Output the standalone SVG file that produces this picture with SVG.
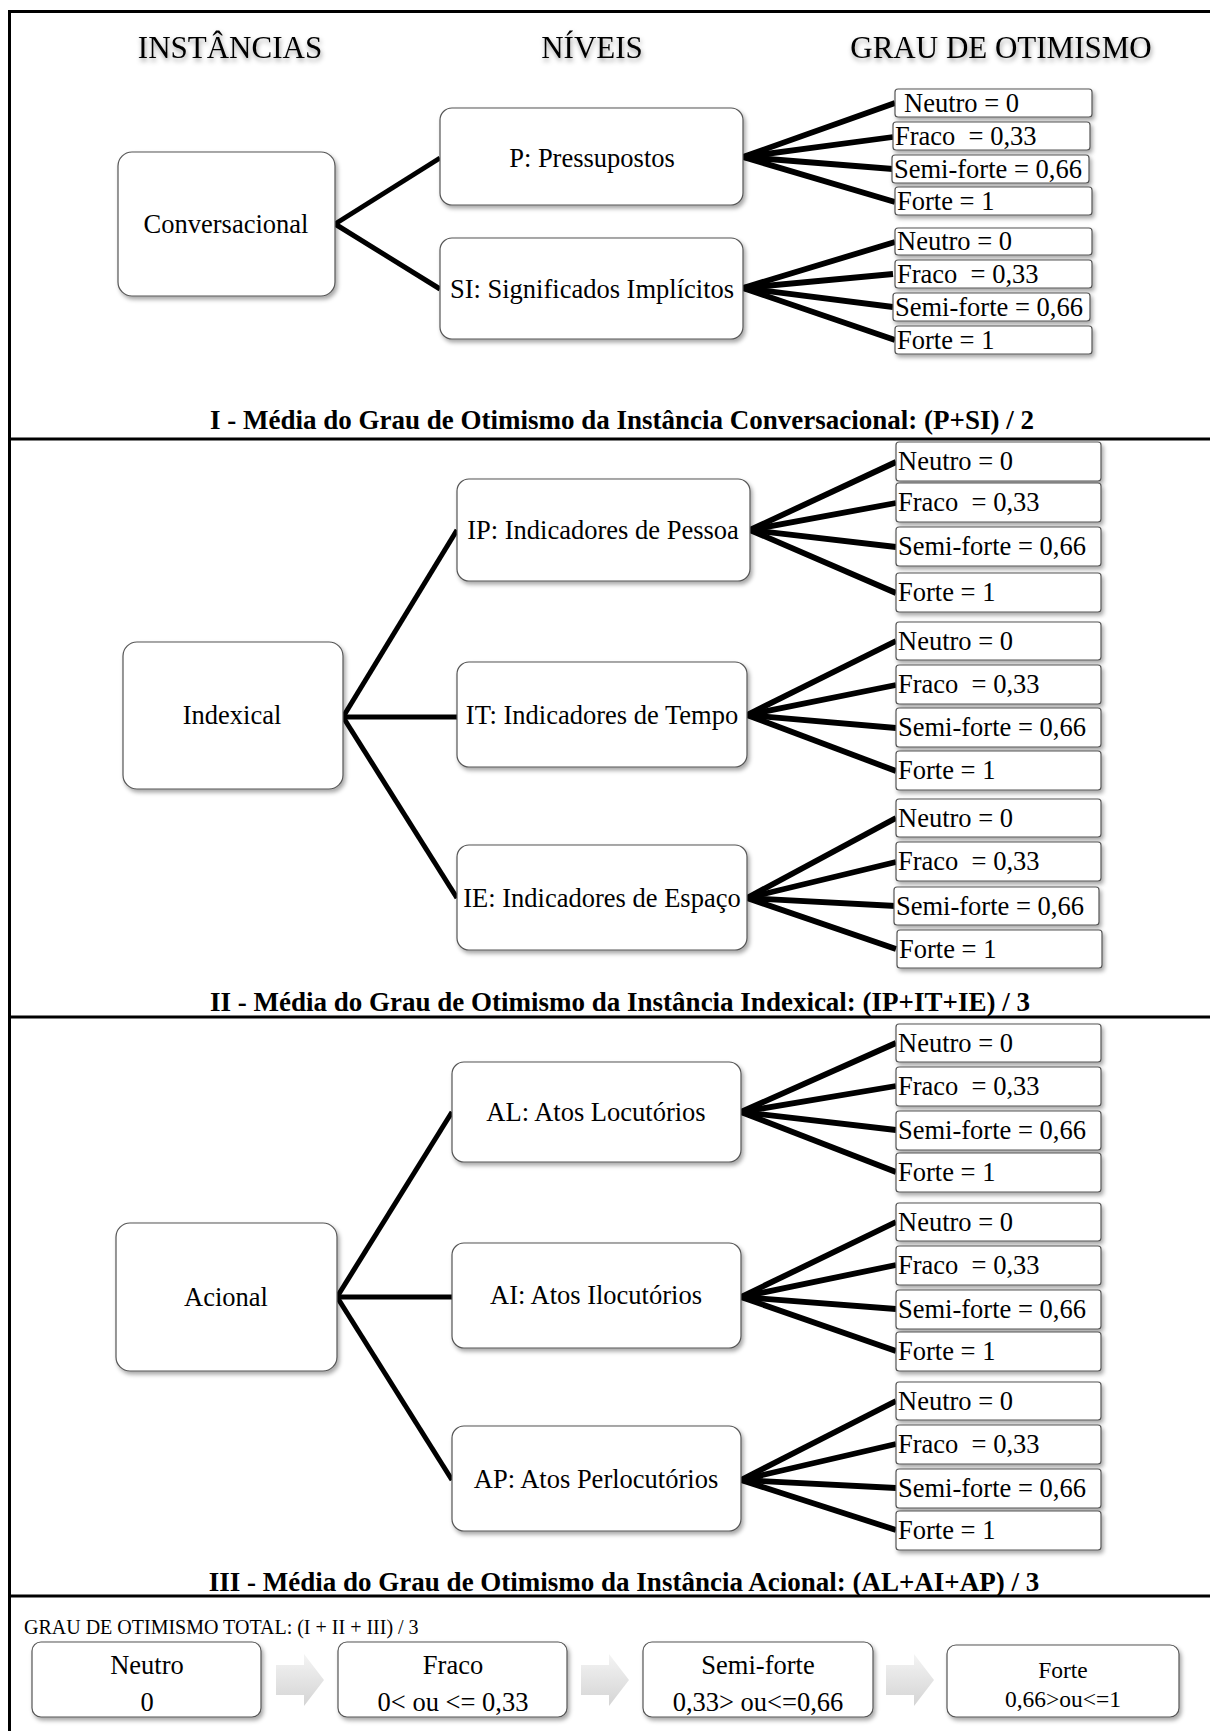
<svg xmlns="http://www.w3.org/2000/svg" width="1210" height="1731" viewBox="0 0 1210 1731">
<style>
.t{font-family:"Liberation Serif","Times New Roman",serif;font-size:26.5px;fill:#000;white-space:pre}
.c{text-anchor:middle}
.hdr{font-size:31px}
.cap{font-weight:bold;font-size:27px}
.bs{font-size:26.5px}
.fs{font-size:23.5px}
.bx{fill:#fff;stroke:#555;stroke-width:1.2}
.gb{fill:#fff;stroke:#555;stroke-width:1.2}
.sep{stroke:#000;stroke-width:3;fill:none}
.conn line{stroke:#000;stroke-width:5;stroke-linecap:butt}
.conn line.f{stroke-width:5.8}
</style>
<defs>
<filter id="sh" x="-10%" y="-10%" width="130%" height="140%">
<feDropShadow dx="2" dy="3" stdDeviation="2" flood-color="#000" flood-opacity="0.35"/>
</filter>
<filter id="tsh" x="-10%" y="-30%" width="120%" height="180%">
<feDropShadow dx="1" dy="3" stdDeviation="2.5" flood-color="#000" flood-opacity="0.4"/>
</filter>
<linearGradient id="ag" x1="0" y1="0" x2="0" y2="1">
<stop offset="0" stop-color="#f4f4f4"/>
<stop offset="1" stop-color="#d4d4d4"/>
</linearGradient>
<path id="arw" d="M0,-15 L28,-15 L28,-26 L48,0 L28,26 L28,15 L0,15 Z" fill="url(#ag)"/>
</defs>
<rect width="1210" height="1731" fill="#fff"/>
<!-- frame and separators -->
<path class="sep" d="M9.5,1731 L9.5,11.5 L1210,11.5"/>
<line class="sep" x1="8" y1="439" x2="1210" y2="439"/>
<line class="sep" x1="8" y1="1017" x2="1210" y2="1017"/>
<line class="sep" x1="8" y1="1596" x2="1210" y2="1596"/>

<!-- headers -->
<g id="headers" filter="url(#tsh)">
<text class="t c hdr" x="230" y="58">INSTÂNCIAS</text>
<text class="t c hdr" x="592" y="58">NÍVEIS</text>
<text class="t c hdr" x="1001" y="58">GRAU DE OTIMISMO</text>
</g>

<!-- connectors -->
<g class="conn" id="connectors">
<line x1="335" y1="224" x2="440" y2="158"/>
<line x1="335" y1="224" x2="440" y2="289"/>
<line class="f" x1="743" y1="157" x2="895" y2="103"/>
<line class="f" x1="743" y1="157" x2="893" y2="137"/>
<line class="f" x1="743" y1="157" x2="893" y2="169"/>
<line class="f" x1="743" y1="157" x2="895" y2="202"/>
<line class="f" x1="743" y1="288" x2="895" y2="242"/>
<line class="f" x1="743" y1="288" x2="893" y2="274"/>
<line class="f" x1="743" y1="288" x2="893" y2="307"/>
<line class="f" x1="743" y1="288" x2="895" y2="340"/>

<line x1="343" y1="717" x2="457" y2="530"/>
<line x1="343" y1="717" x2="457" y2="717"/>
<line x1="343" y1="717" x2="457" y2="898"/>
<line class="f" x1="750" y1="530" x2="896" y2="462"/>
<line class="f" x1="750" y1="530" x2="896" y2="503"/>
<line class="f" x1="750" y1="530" x2="896" y2="547"/>
<line class="f" x1="750" y1="530" x2="896" y2="593"/>
<line class="f" x1="747" y1="715" x2="896" y2="641"/>
<line class="f" x1="747" y1="715" x2="896" y2="685"/>
<line class="f" x1="747" y1="715" x2="896" y2="728"/>
<line class="f" x1="747" y1="715" x2="896" y2="771"/>
<line class="f" x1="747" y1="898" x2="896" y2="818"/>
<line class="f" x1="747" y1="898" x2="896" y2="862"/>
<line class="f" x1="747" y1="898" x2="896" y2="906"/>
<line class="f" x1="747" y1="898" x2="896" y2="949"/>

<line x1="337" y1="1297" x2="452" y2="1112"/>
<line x1="337" y1="1297" x2="452" y2="1297"/>
<line x1="337" y1="1297" x2="452" y2="1480"/>
<line class="f" x1="741" y1="1112" x2="896" y2="1043"/>
<line class="f" x1="741" y1="1112" x2="896" y2="1086"/>
<line class="f" x1="741" y1="1112" x2="896" y2="1130"/>
<line class="f" x1="741" y1="1112" x2="896" y2="1172"/>
<line class="f" x1="741" y1="1297" x2="896" y2="1222"/>
<line class="f" x1="741" y1="1297" x2="896" y2="1265"/>
<line class="f" x1="741" y1="1297" x2="896" y2="1309"/>
<line class="f" x1="741" y1="1297" x2="896" y2="1351"/>
<line class="f" x1="741" y1="1480" x2="896" y2="1401"/>
<line class="f" x1="741" y1="1480" x2="896" y2="1444"/>
<line class="f" x1="741" y1="1480" x2="896" y2="1488"/>
<line class="f" x1="741" y1="1480" x2="896" y2="1530"/>
</g>

<!-- Section I -->
<g id="n-conversacional"><rect class="bx" filter="url(#sh)" x="118" y="152" width="217" height="144" rx="14"/><text class="t c" x="226" y="233">Conversacional</text></g>
<g id="n-p"><rect class="bx" filter="url(#sh)" x="440" y="108" width="303" height="97" rx="12"/><text class="t c" x="592" y="167">P: Pressupostos</text></g>
<g id="n-si"><rect class="bx" filter="url(#sh)" x="440" y="238" width="303" height="101" rx="12"/><text class="t c" x="592" y="298">SI: Significados Implícitos</text></g>

<g id="g-p-neutro"><rect class="gb" filter="url(#sh)" x="895" y="89" width="197" height="28" rx="3"/><text class="t" x="904" y="112">Neutro = 0</text></g>
<g id="g-p-fraco"><rect class="gb" filter="url(#sh)" x="893" y="122" width="197" height="28" rx="3"/><text class="t" x="895" y="145">Fraco  = 0,33</text></g>
<g id="g-p-semi"><rect class="gb" filter="url(#sh)" x="892" y="155" width="197" height="28" rx="3"/><text class="t" x="894" y="178">Semi-forte = 0,66</text></g>
<g id="g-p-forte"><rect class="gb" filter="url(#sh)" x="895" y="187" width="197" height="28" rx="3"/><text class="t" x="897" y="210">Forte = 1</text></g>

<g id="g-si-neutro"><rect class="gb" filter="url(#sh)" x="895" y="228" width="197" height="27" rx="3"/><text class="t" x="897" y="250">Neutro = 0</text></g>
<g id="g-si-fraco"><rect class="gb" filter="url(#sh)" x="895" y="260" width="197" height="28" rx="3"/><text class="t" x="897" y="283">Fraco  = 0,33</text></g>
<g id="g-si-semi"><rect class="gb" filter="url(#sh)" x="893" y="293" width="197" height="28" rx="3"/><text class="t" x="895" y="316">Semi-forte = 0,66</text></g>
<g id="g-si-forte"><rect class="gb" filter="url(#sh)" x="895" y="326" width="197" height="28" rx="3"/><text class="t" x="897" y="349">Forte = 1</text></g>

<text class="t c cap" x="622" y="429">I - Média do Grau de Otimismo da Instância Conversacional: (P+SI) / 2</text>

<!-- Section II -->
<g id="n-indexical"><rect class="bx" filter="url(#sh)" x="123" y="642" width="220" height="147" rx="14"/><text class="t c" x="232" y="724">Indexical</text></g>
<g id="n-ip"><rect class="bx" filter="url(#sh)" x="457" y="479" width="293" height="102" rx="12"/><text class="t c" x="603" y="539">IP: Indicadores de Pessoa</text></g>
<g id="n-it"><rect class="bx" filter="url(#sh)" x="457" y="662" width="290" height="105" rx="12"/><text class="t c" x="602" y="724">IT: Indicadores de Tempo</text></g>
<g id="n-ie"><rect class="bx" filter="url(#sh)" x="457" y="845" width="290" height="105" rx="12"/><text class="t c" x="602" y="907">IE: Indicadores de Espaço</text></g>

<g id="g-ip-neutro"><rect class="gb" filter="url(#sh)" x="896" y="442" width="205" height="39" rx="3"/><text class="t" x="898" y="470">Neutro = 0</text></g>
<g id="g-ip-fraco"><rect class="gb" filter="url(#sh)" x="896" y="483" width="205" height="39" rx="3"/><text class="t" x="898" y="511">Fraco  = 0,33</text></g>
<g id="g-ip-semi"><rect class="gb" filter="url(#sh)" x="896" y="527" width="205" height="39" rx="3"/><text class="t" x="898" y="555">Semi-forte = 0,66</text></g>
<g id="g-ip-forte"><rect class="gb" filter="url(#sh)" x="896" y="573" width="205" height="39" rx="3"/><text class="t" x="898" y="601">Forte = 1</text></g>

<g id="g-it-neutro"><rect class="gb" filter="url(#sh)" x="896" y="622" width="205" height="38" rx="3"/><text class="t" x="898" y="650">Neutro = 0</text></g>
<g id="g-it-fraco"><rect class="gb" filter="url(#sh)" x="896" y="665" width="205" height="39" rx="3"/><text class="t" x="898" y="693">Fraco  = 0,33</text></g>
<g id="g-it-semi"><rect class="gb" filter="url(#sh)" x="896" y="708" width="205" height="39" rx="3"/><text class="t" x="898" y="736">Semi-forte = 0,66</text></g>
<g id="g-it-forte"><rect class="gb" filter="url(#sh)" x="896" y="751" width="205" height="39" rx="3"/><text class="t" x="898" y="779">Forte = 1</text></g>

<g id="g-ie-neutro"><rect class="gb" filter="url(#sh)" x="896" y="799" width="205" height="38" rx="3"/><text class="t" x="898" y="827">Neutro = 0</text></g>
<g id="g-ie-fraco"><rect class="gb" filter="url(#sh)" x="896" y="842" width="205" height="39" rx="3"/><text class="t" x="898" y="870">Fraco  = 0,33</text></g>
<g id="g-ie-semi"><rect class="gb" filter="url(#sh)" x="894" y="887" width="205" height="38" rx="3"/><text class="t" x="896" y="915">Semi-forte = 0,66</text></g>
<g id="g-ie-forte"><rect class="gb" filter="url(#sh)" x="897" y="930" width="205" height="38" rx="3"/><text class="t" x="899" y="958">Forte = 1</text></g>

<text class="t c cap" x="620" y="1011">II - Média do Grau de Otimismo da Instância Indexical: (IP+IT+IE) / 3</text>

<!-- Section III -->
<g id="n-acional"><rect class="bx" filter="url(#sh)" x="116" y="1223" width="221" height="148" rx="14"/><text class="t c" x="226" y="1306">Acional</text></g>
<g id="n-al"><rect class="bx" filter="url(#sh)" x="452" y="1062" width="289" height="100" rx="12"/><text class="t c" x="596" y="1121">AL: Atos Locutórios</text></g>
<g id="n-ai"><rect class="bx" filter="url(#sh)" x="452" y="1243" width="289" height="105" rx="12"/><text class="t c" x="596" y="1304">AI: Atos Ilocutórios</text></g>
<g id="n-ap"><rect class="bx" filter="url(#sh)" x="452" y="1426" width="289" height="105" rx="12"/><text class="t c" x="596" y="1488">AP: Atos Perlocutórios</text></g>

<g id="g-al-neutro"><rect class="gb" filter="url(#sh)" x="896" y="1024" width="205" height="38" rx="3"/><text class="t" x="898" y="1052">Neutro = 0</text></g>
<g id="g-al-fraco"><rect class="gb" filter="url(#sh)" x="896" y="1067" width="205" height="39" rx="3"/><text class="t" x="898" y="1095">Fraco  = 0,33</text></g>
<g id="g-al-semi"><rect class="gb" filter="url(#sh)" x="896" y="1111" width="205" height="39" rx="3"/><text class="t" x="898" y="1139">Semi-forte = 0,66</text></g>
<g id="g-al-forte"><rect class="gb" filter="url(#sh)" x="896" y="1153" width="205" height="39" rx="3"/><text class="t" x="898" y="1181">Forte = 1</text></g>

<g id="g-ai-neutro"><rect class="gb" filter="url(#sh)" x="896" y="1203" width="205" height="38" rx="3"/><text class="t" x="898" y="1231">Neutro = 0</text></g>
<g id="g-ai-fraco"><rect class="gb" filter="url(#sh)" x="896" y="1246" width="205" height="39" rx="3"/><text class="t" x="898" y="1274">Fraco  = 0,33</text></g>
<g id="g-ai-semi"><rect class="gb" filter="url(#sh)" x="896" y="1290" width="205" height="39" rx="3"/><text class="t" x="898" y="1318">Semi-forte = 0,66</text></g>
<g id="g-ai-forte"><rect class="gb" filter="url(#sh)" x="896" y="1332" width="205" height="39" rx="3"/><text class="t" x="898" y="1360">Forte = 1</text></g>

<g id="g-ap-neutro"><rect class="gb" filter="url(#sh)" x="896" y="1382" width="205" height="38" rx="3"/><text class="t" x="898" y="1410">Neutro = 0</text></g>
<g id="g-ap-fraco"><rect class="gb" filter="url(#sh)" x="896" y="1425" width="205" height="39" rx="3"/><text class="t" x="898" y="1453">Fraco  = 0,33</text></g>
<g id="g-ap-semi"><rect class="gb" filter="url(#sh)" x="896" y="1469" width="205" height="39" rx="3"/><text class="t" x="898" y="1497">Semi-forte = 0,66</text></g>
<g id="g-ap-forte"><rect class="gb" filter="url(#sh)" x="896" y="1511" width="205" height="39" rx="3"/><text class="t" x="898" y="1539">Forte = 1</text></g>

<text class="t c cap" x="624" y="1591">III - Média do Grau de Otimismo da Instância Acional: (AL+AI+AP) / 3</text>

<!-- Section total -->
<text class="t" x="24" y="1634" style="font-size:20px">GRAU DE OTIMISMO TOTAL: (I + II + III) / 3</text>

<g id="t-neutro"><rect class="bx" filter="url(#sh)" x="32" y="1642" width="229" height="75" rx="9"/><text class="t c bs" x="147" y="1674">Neutro</text><text class="t c bs" x="147" y="1711">0</text></g>
<use href="#arw" x="276" y="1680"/>
<g id="t-fraco"><rect class="bx" filter="url(#sh)" x="338" y="1642" width="229" height="75" rx="9"/><text class="t c bs" x="453" y="1674">Fraco</text><text class="t c bs" x="453" y="1711">0&lt; ou &lt;= 0,33</text></g>
<use href="#arw" x="581" y="1680"/>
<g id="t-semi"><rect class="bx" filter="url(#sh)" x="643" y="1642" width="230" height="75" rx="9"/><text class="t c bs" x="758" y="1674">Semi-forte</text><text class="t c bs" x="758" y="1711">0,33&gt; ou&lt;=0,66</text></g>
<use href="#arw" x="886" y="1680"/>
<g id="t-forte"><rect class="bx" filter="url(#sh)" x="947" y="1645" width="232" height="72" rx="9"/><text class="t c fs" x="1063" y="1678">Forte</text><text class="t c fs" x="1063" y="1707">0,66&gt;ou&lt;=1</text></g>
</svg>
